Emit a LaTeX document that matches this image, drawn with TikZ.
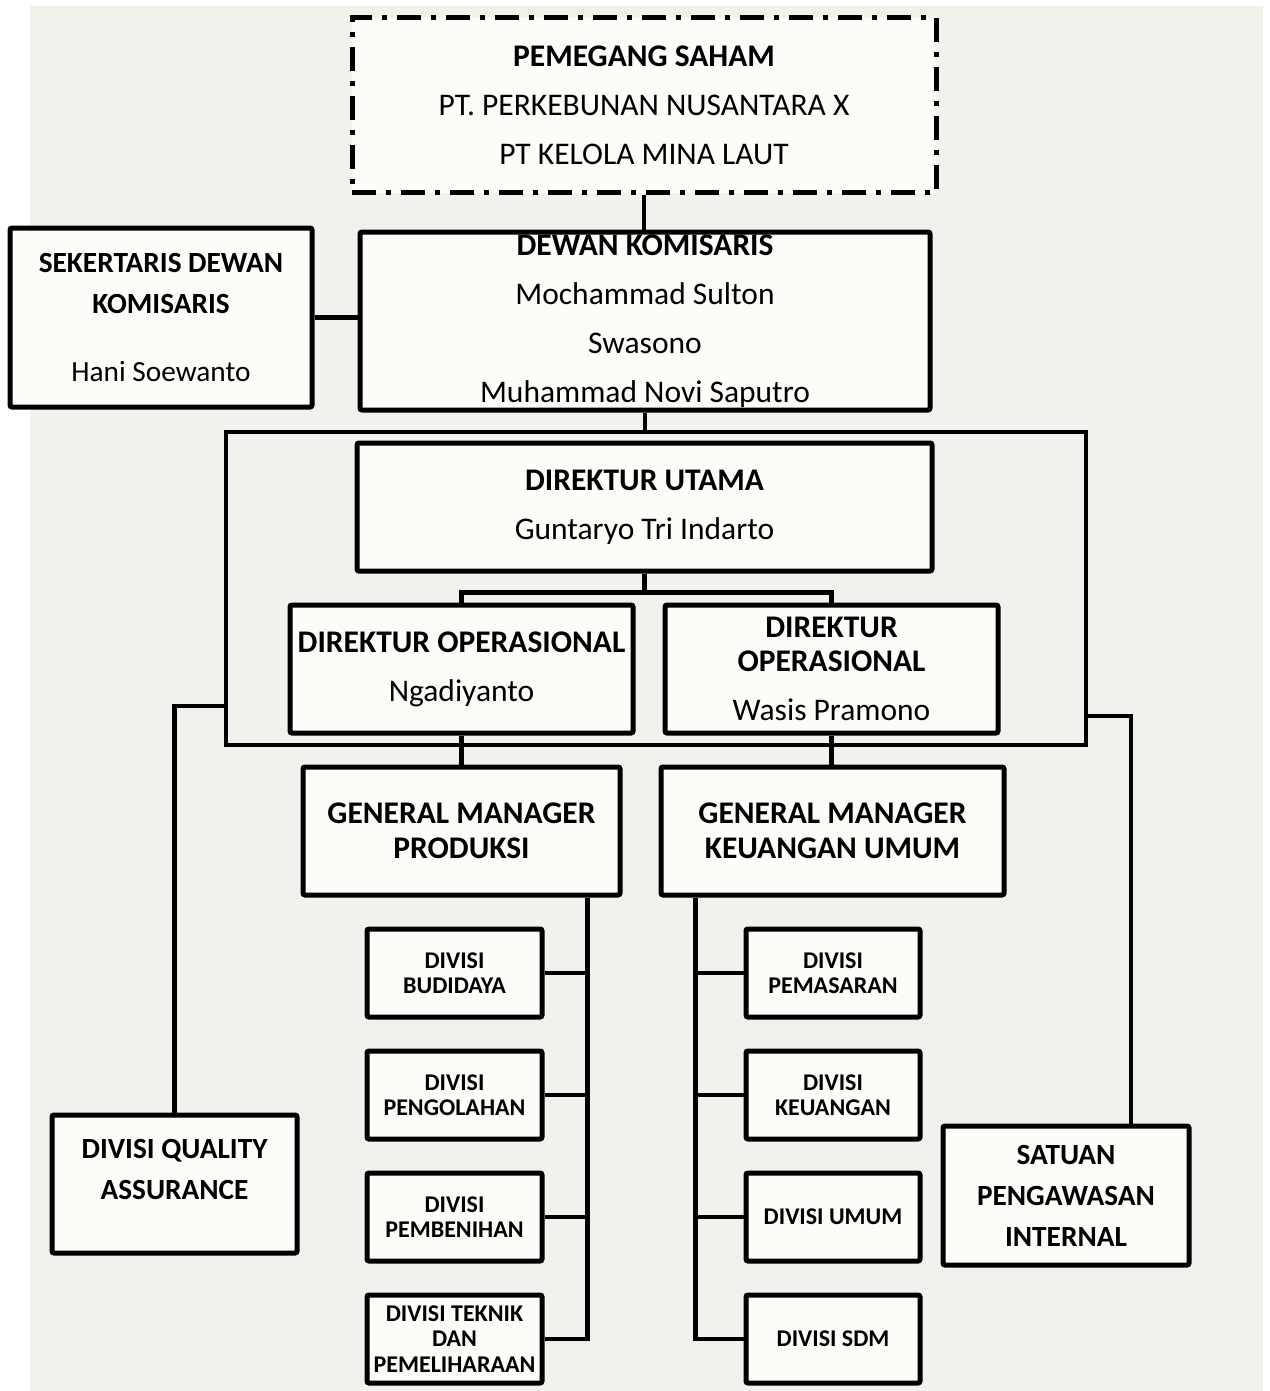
\documentclass[tikz,border=0pt]{standalone}
\usepackage{fontspec}
\setmainfont{Carlito}
\usetikzlibrary{positioning,calc}

\definecolor{panelbg}{RGB}{242,242,236}
\definecolor{boxbg}{RGB}{252,252,249}

\newcommand{\bigsize}{\fontsize{31.5}{49}\selectfont}
\newcommand{\gmsize}{\fontsize{31.5}{35}\selectfont}
\newcommand{\midsize}{\fontsize{29.3}{41}\selectfont}
\newcommand{\divsize}{\fontsize{24}{25.5}\selectfont}

\tikzset{
    box/.style={draw, line width=5pt, fill=boxbg, rounded corners=2pt, inner sep=0pt, align=center},
    divbox/.style={box, minimum width=175, minimum height=88, font=\divsize\bfseries},
    link/.style={line width=4.6pt}
}

\begin{document}
\begin{tikzpicture}[x=1pt, y=-1pt]
    \def\xmid{645};
    \def\xdl{454.5};
    \def\xdr{833};
    \def\ytop{973};
    \def\dy{122};

    \useasboundingbox (0,0) rectangle (1269,1391);
    \fill[panelbg] (30,6) rectangle (1263,1391);

% owners and board

    \node[box, rounded corners=0pt, dash pattern=on 24pt off 10pt on 5pt off 10pt,
          minimum width=584, minimum height=175, font=\bigsize] (saham) at (644,105.5)
        {\textbf{PEMEGANG SAHAM}\\PT. PERKEBUNAN NUSANTARA X\\PT KELOLA MINA LAUT};
    \node[box, minimum width=570, minimum height=178, font=\bigsize] (dewan) at (\xmid,321)
        {\textbf{DEWAN KOMISARIS}\\Mochammad Sulton\\Swasono\\Muhammad Novi Saputro};
    \node[box, minimum width=302, minimum height=179, font=\midsize] (sekretaris) at (161,317.5)
        {\textbf{SEKERTARIS DEWAN}\\\textbf{KOMISARIS}\\[27pt]Hani Soewanto};

% directors

    \node[draw, line width=4.6pt, minimum width=860, minimum height=313, inner sep=0pt] (direksi) at (656,588.5) {};

    \node[box, minimum width=575, minimum height=128, font=\bigsize] (utama) at (644.5,507)
        {\textbf{DIREKTUR UTAMA}\\Guntaryo Tri Indarto};
    \node[box, minimum width=343, minimum height=128, font=\bigsize] (opsa) at (461.5,669)
        {\textbf{DIREKTUR OPERASIONAL}\\Ngadiyanto};
    \node[box, minimum width=333, minimum height=128, font=\fontsize{31.5}{34}\selectfont] (opsb) at (831.5,669)
        {\textbf{DIREKTUR}\\\textbf{OPERASIONAL}\\[15pt]Wasis Pramono};

% managers

    \node[box, minimum width=317, minimum height=128, font=\gmsize\bfseries] (gmprod) at (461.5,831)
        {GENERAL MANAGER\\PRODUKSI};
    \node[box, minimum width=343, minimum height=128, font=\gmsize\bfseries] (gmkeu) at (832.5,831)
        {GENERAL MANAGER\\KEUANGAN UMUM};

    \node[box, minimum width=245, minimum height=138, font=\midsize\bfseries] (quality) at (174.5,1184)
        {DIVISI QUALITY\\ASSURANCE\\[-12pt]\mbox{}};
    \node[box, minimum width=246, minimum height=139, font=\midsize\bfseries] (spi) at (1066,1195.5)
        {SATUAN\\PENGAWASAN\\INTERNAL};

% divisions

    \foreach \name/\txt [count=\i from 0] in {budidaya/{DIVISI\\BUDIDAYA}, pengolahan/{DIVISI\\PENGOLAHAN},
            pembenihan/{DIVISI\\PEMBENIHAN}, teknik/{DIVISI TEKNIK\\DAN\\PEMELIHARAAN}}
        \node[divbox] (\name) at (\xdl, \ytop + \i * \dy) {\txt};

    \foreach \name/\txt [count=\i from 0] in {pemasaran/{DIVISI\\PEMASARAN}, keuangan/{DIVISI\\KEUANGAN},
            umum/{DIVISI UMUM}, sdm/{DIVISI SDM}}
        \node[divbox, minimum width=174] (\name) at (\xdr, \ytop + \i * \dy) {\txt};

% lines

    \draw[link] (saham.south) -- (saham.south |- dewan.north);
    \draw[link] (sekretaris.east) -- (sekretaris.east -| dewan.west);
    \draw[link] (dewan.south) -- (dewan.south |- direksi.north);

    \draw[link] (utama.south) -- ++(0,19) -| (opsa.north);
    \draw[link] (utama.south) -- ++(0,19) -| (opsb.north);
    \draw[link] (opsa.south) -- (gmprod.north);
    \draw[link] (opsb.south) -- (opsb.south |- gmkeu.north);

    \draw[link] (direksi.west) ++(0,117.5) -| (quality.north);
    \draw[link] (direksi.east) ++(0,127.5) -| ([xshift=65pt]spi.north);

    \foreach \d in {budidaya, pengolahan, pembenihan, teknik}
        \draw[link] ([xshift=-35pt]gmprod.south east) |- (\d.east);
    \foreach \d in {pemasaran, keuangan, umum, sdm}
        \draw[link] ([xshift=37pt]gmkeu.south west) |- (\d.west);

\end{tikzpicture}
\end{document}
